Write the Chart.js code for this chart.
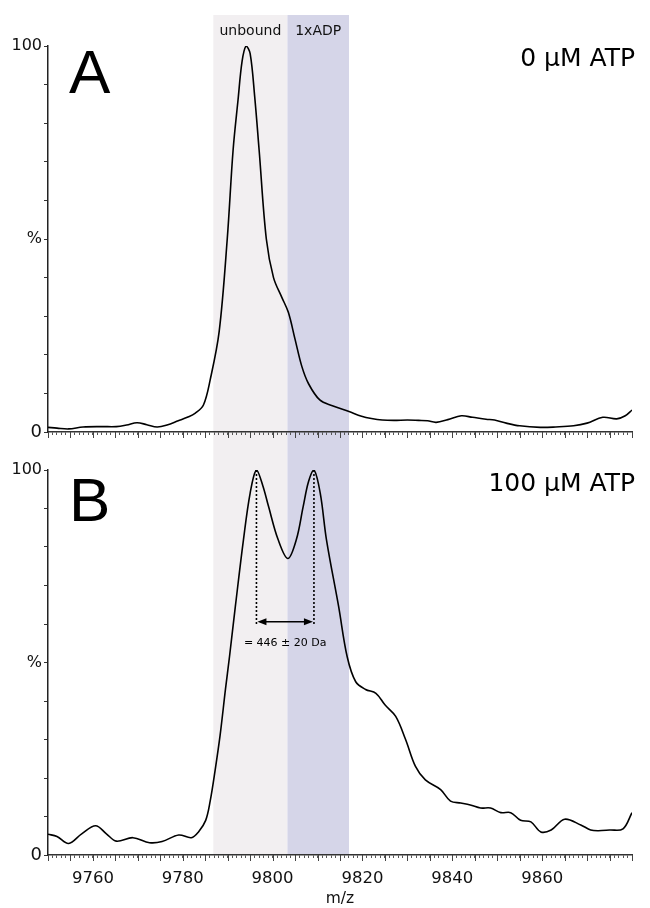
<!DOCTYPE html>
<html><head><meta charset="utf-8">
<script src="https://cdn.jsdelivr.net/npm/chart.js@4/dist/chart.umd.min.js"></script>
<style>
html,body{margin:0;padding:0;background:#fff;}
#wrap{position:relative;width:650px;height:908px;overflow:hidden;}
.box{position:absolute;left:0;width:650px;}
</style></head><body>
<div id="wrap">
  <div class="box" style="top:0;height:445px"><canvas id="cA" width="650" height="445"></canvas></div>
  <div class="box" style="top:445px;height:463px"><canvas id="cB" width="650" height="463"></canvas></div>
</div>
<script>
// ---------- data ----------
const mzA = [9750, 9752, 9754.6, 9757.8, 9762, 9765.2, 9767.5, 9769.8, 9772, 9774.3, 9776.5, 9779, 9781, 9782.8, 9784.6, 9786.1, 9788.1, 9789.9, 9791.2, 9792.3, 9793.2, 9794.1, 9795, 9796, 9797, 9798.6, 9800.2, 9802, 9803.5, 9805, 9806.5, 9808, 9810.5, 9813.3, 9817, 9819.8, 9822, 9824.4, 9827, 9830, 9832.5, 9834.5, 9836.4, 9839, 9842, 9844.5, 9847.5, 9849.4, 9852, 9855, 9859.6, 9863, 9867, 9870, 9873.5, 9876.6, 9878.5, 9880];
const pctA = [1.2, 1.0, 0.8, 1.3, 1.4, 1.4, 1.8, 2.4, 1.9, 1.3, 1.8, 2.9, 3.8, 4.9, 7, 13.5, 26, 50, 73, 86, 96, 100, 98, 87, 73, 50, 40, 35, 31, 24, 17, 12.5, 8.3, 6.8, 5.3, 4.1, 3.5, 3.1, 3.0, 3.1, 3.0, 2.9, 2.5, 3.2, 4.2, 3.8, 3.3, 3.1, 2.3, 1.6, 1.2, 1.3, 1.6, 2.3, 3.8, 3.4, 4.2, 5.7];

const mzB = [9750, 9752, 9754.6, 9757.5, 9760.6, 9763, 9765.2, 9768.9, 9772.6, 9775.4, 9779.1, 9781.9, 9783.5, 9785.1, 9786.1, 9787.2, 9788.3, 9789.5, 9790.4, 9791.7, 9793.5, 9795, 9796.4, 9797.8, 9799.1, 9801.2, 9803.4, 9805.3, 9806.8, 9808, 9809.2, 9810.6, 9812, 9814.7, 9816.6, 9818.5, 9820.7, 9823, 9825, 9827.4, 9829.6, 9831.8, 9834, 9837.4, 9839.6, 9841.9, 9844, 9846.3, 9848.5, 9850.8, 9853, 9855.2, 9857.5, 9859.7, 9862, 9865, 9868.6, 9870.8, 9872.5, 9875, 9878, 9880];
const pctB = [5.4, 4.8, 3.0, 5.5, 7.6, 5.5, 3.6, 4.5, 3.2, 3.5, 5.2, 4.5, 6, 9, 14, 22, 31, 43, 51.5, 64.5, 81.8, 94, 100, 96, 90.5, 82, 77, 82, 90.5, 97, 100, 94, 81.8, 64.5, 51.5, 45, 43, 42, 39, 36, 30, 23, 19.5, 17, 14, 13.5, 13, 12.2, 12.2, 11, 11, 9, 8.6, 6, 6.5, 9.3, 7.8, 6.5, 6.3, 6.5, 6.8, 11];

const xRange = [9750, 9880];
const xLabelValues = [9760, 9780, 9800, 9820, 9840, 9860];
const yTickLabels = {100: '100', 50: '%', 0: '0'};
const bandEdges = [9786.8, 9803.3, 9817];
const bandLabels = ['unbound', '1xADP'];
const peaksB = [9796.4, 9809.2];
const diffText = '= 446 \u00B1 20 Da';
const panelLetters = ['A', 'B'];
const panelTitles = ['0 \u03BCM ATP', '100 \u03BCM ATP'];

// ---------- styling ----------
const FONT = '"DejaVu Sans", Verdana, sans-serif';
const bandColors = ['#f2eff1', '#d5d5e8'];

const bandsPlugin = {
  id: 'bands',
  beforeDraw(chart, args, opts) {
    const {ctx, scales: {x}} = chart;
    const top = opts.top;
    const bottom = opts.bottom === 'area' ? chart.chartArea.bottom : chart.height;
    ctx.save();
    for (let i = 0; i < bandLabels.length; i++) {
      const x0 = x.getPixelForValue(bandEdges[i]);
      const x1 = x.getPixelForValue(bandEdges[i + 1]);
      ctx.fillStyle = bandColors[i];
      ctx.fillRect(x0, top, x1 - x0, bottom - top);
      if (opts.labels) {
        ctx.fillStyle = '#111';
        ctx.font = '14px ' + FONT;
        ctx.textAlign = 'center';
        ctx.textBaseline = 'middle';
        ctx.fillText(bandLabels[i], (x0 + x1) / 2, 31);
      }
    }
    ctx.restore();
  },
  afterDraw(chart, args, opts) {
    const {ctx, scales: {x}, chartArea} = chart;
    ctx.save();
    ctx.strokeStyle = '#444';
    ctx.lineWidth = 1;
    for (let v = Math.ceil(xRange[0] / 5) * 5; v <= xRange[1]; v += 5) {
      const px = Math.round(x.getPixelForValue(v)) + 0.5;
      ctx.beginPath();
      ctx.moveTo(px, chartArea.bottom);
      ctx.lineTo(px, chartArea.bottom + 6);
      ctx.stroke();
    }
    ctx.fillStyle = '#000';
    ctx.textBaseline = 'alphabetic';
    ctx.font = '62px "Liberation Sans", Arial, sans-serif';
    ctx.textAlign = 'left';
    ctx.fillText(opts.letter, 69, opts.letterY);
    ctx.font = '25px ' + FONT;
    ctx.textAlign = 'right';
    ctx.fillText(opts.title, 635, opts.titleY);
    ctx.restore();
  }
};

const arrowPlugin = {
  id: 'arrowAnno',
  afterDatasetsDraw(chart, args, opts) {
    if (!opts.show) return;
    const {ctx, scales: {x, y}} = chart;
    const xa = x.getPixelForValue(peaksB[0]);
    const xb = x.getPixelForValue(peaksB[1]);
    const yTop = y.getPixelForValue(100);
    const yBot = y.getPixelForValue(59.5);
    const yArr = y.getPixelForValue(60.6);
    ctx.save();
    ctx.strokeStyle = '#000';
    ctx.lineWidth = 1.6;
    ctx.setLineDash([2, 2]);
    [xa, xb].forEach(px => {
      ctx.beginPath(); ctx.moveTo(px, yTop); ctx.lineTo(px, yBot); ctx.stroke();
    });
    ctx.setLineDash([]);
    ctx.lineWidth = 1.5;
    ctx.beginPath(); ctx.moveTo(xa + 4, yArr); ctx.lineTo(xb - 4, yArr); ctx.stroke();
    ctx.fillStyle = '#000';
    ctx.beginPath(); ctx.moveTo(xa + 1, yArr); ctx.lineTo(xa + 10, yArr - 3.5); ctx.lineTo(xa + 10, yArr + 3.5); ctx.closePath(); ctx.fill();
    ctx.beginPath(); ctx.moveTo(xb - 1, yArr); ctx.lineTo(xb - 10, yArr - 3.5); ctx.lineTo(xb - 10, yArr + 3.5); ctx.closePath(); ctx.fill();
    ctx.font = '11px ' + FONT;
    ctx.textAlign = 'center';
    ctx.textBaseline = 'middle';
    ctx.fillText(diffText, (xa + xb) / 2, y.getPixelForValue(55));
    ctx.restore();
  }
};

function makeChart(id, mz, pct, cfg) {
  const data = mz.map((m, i) => ({x: m, y: pct[i]}));
  return new Chart(document.getElementById(id), {
    type: 'line',
    data: {datasets: [{data, borderColor: '#000', borderWidth: 1.6, pointRadius: 0, tension: 0.35, fill: false}]},
    plugins: [bandsPlugin, arrowPlugin],
    options: {
      responsive: false,
      animation: false,
      events: [],
      layout: {padding: {top: cfg.padTop, right: 18, bottom: 0, left: 0}},
      plugins: {
        legend: {display: false},
        tooltip: {enabled: false},
        bands: {top: cfg.bandTop, bottom: cfg.bandBottom, labels: cfg.bandLabels, letter: cfg.letter, letterY: cfg.letterY, title: cfg.title, titleY: cfg.titleY},
        arrowAnno: {show: cfg.arrow}
      },
      scales: {
        x: {
          type: 'linear', min: xRange[0], max: xRange[1],
          afterBuildTicks: s => { const t = []; for (let v = xRange[0]; v <= xRange[1]; v++) t.push({value: v}); s.ticks = t; },
          afterFit: s => { s.height = cfg.xHeight; },
          ticks: {
            display: cfg.xLabels, autoSkip: false, maxRotation: 0, padding: 11, color: '#111',
            font: {family: FONT, size: 16.5},
            callback: v => xLabelValues.includes(v) ? String(v) : ''
          },
          grid: {display: true, drawOnChartArea: false, drawTicks: true, tickLength: 3, color: '#555', lineWidth: 1},
          border: {display: true, color: '#333', width: 1.5},
          title: {display: cfg.xLabels, text: 'm/z', color: '#111', font: {family: FONT, size: 15.5}, padding: {top: 0, bottom: 0}}
        },
        y: {
          type: 'linear', min: 0, max: 100,
          afterBuildTicks: s => { const t = []; for (let v = 0; v <= 100; v += 10) t.push({value: v}); s.ticks = t; },
          afterFit: s => { s.width = 48; },
          ticks: {
            autoSkip: false, padding: 2, color: '#111',
            font: c => ({family: FONT, size: c.tick && c.tick.value === 0 ? 18 : 16}),
            callback: v => yTickLabels[v] !== undefined ? yTickLabels[v] : ''
          },
          grid: {display: true, drawOnChartArea: false, drawTicks: true, tickLength: 4, color: '#333', lineWidth: 1},
          border: {display: true, color: '#222', width: 1.5}
        }
      }
    }
  });
}

makeChart('cA', mzA, pctA, {padTop: 46, bandTop: 15, bandBottom: 'canvas', bandLabels: true, xHeight: 13, xLabels: false, letter: panelLetters[0], letterY: 93, title: panelTitles[0], titleY: 66, arrow: false});
makeChart('cB', mzB, pctB, {padTop: 25, bandTop: 0, bandBottom: 'area', bandLabels: false, xHeight: 53, xLabels: true, letter: panelLetters[1], letterY: 521 - 445, title: panelTitles[1], titleY: 491 - 445, arrow: true});
</script>
</body></html>
